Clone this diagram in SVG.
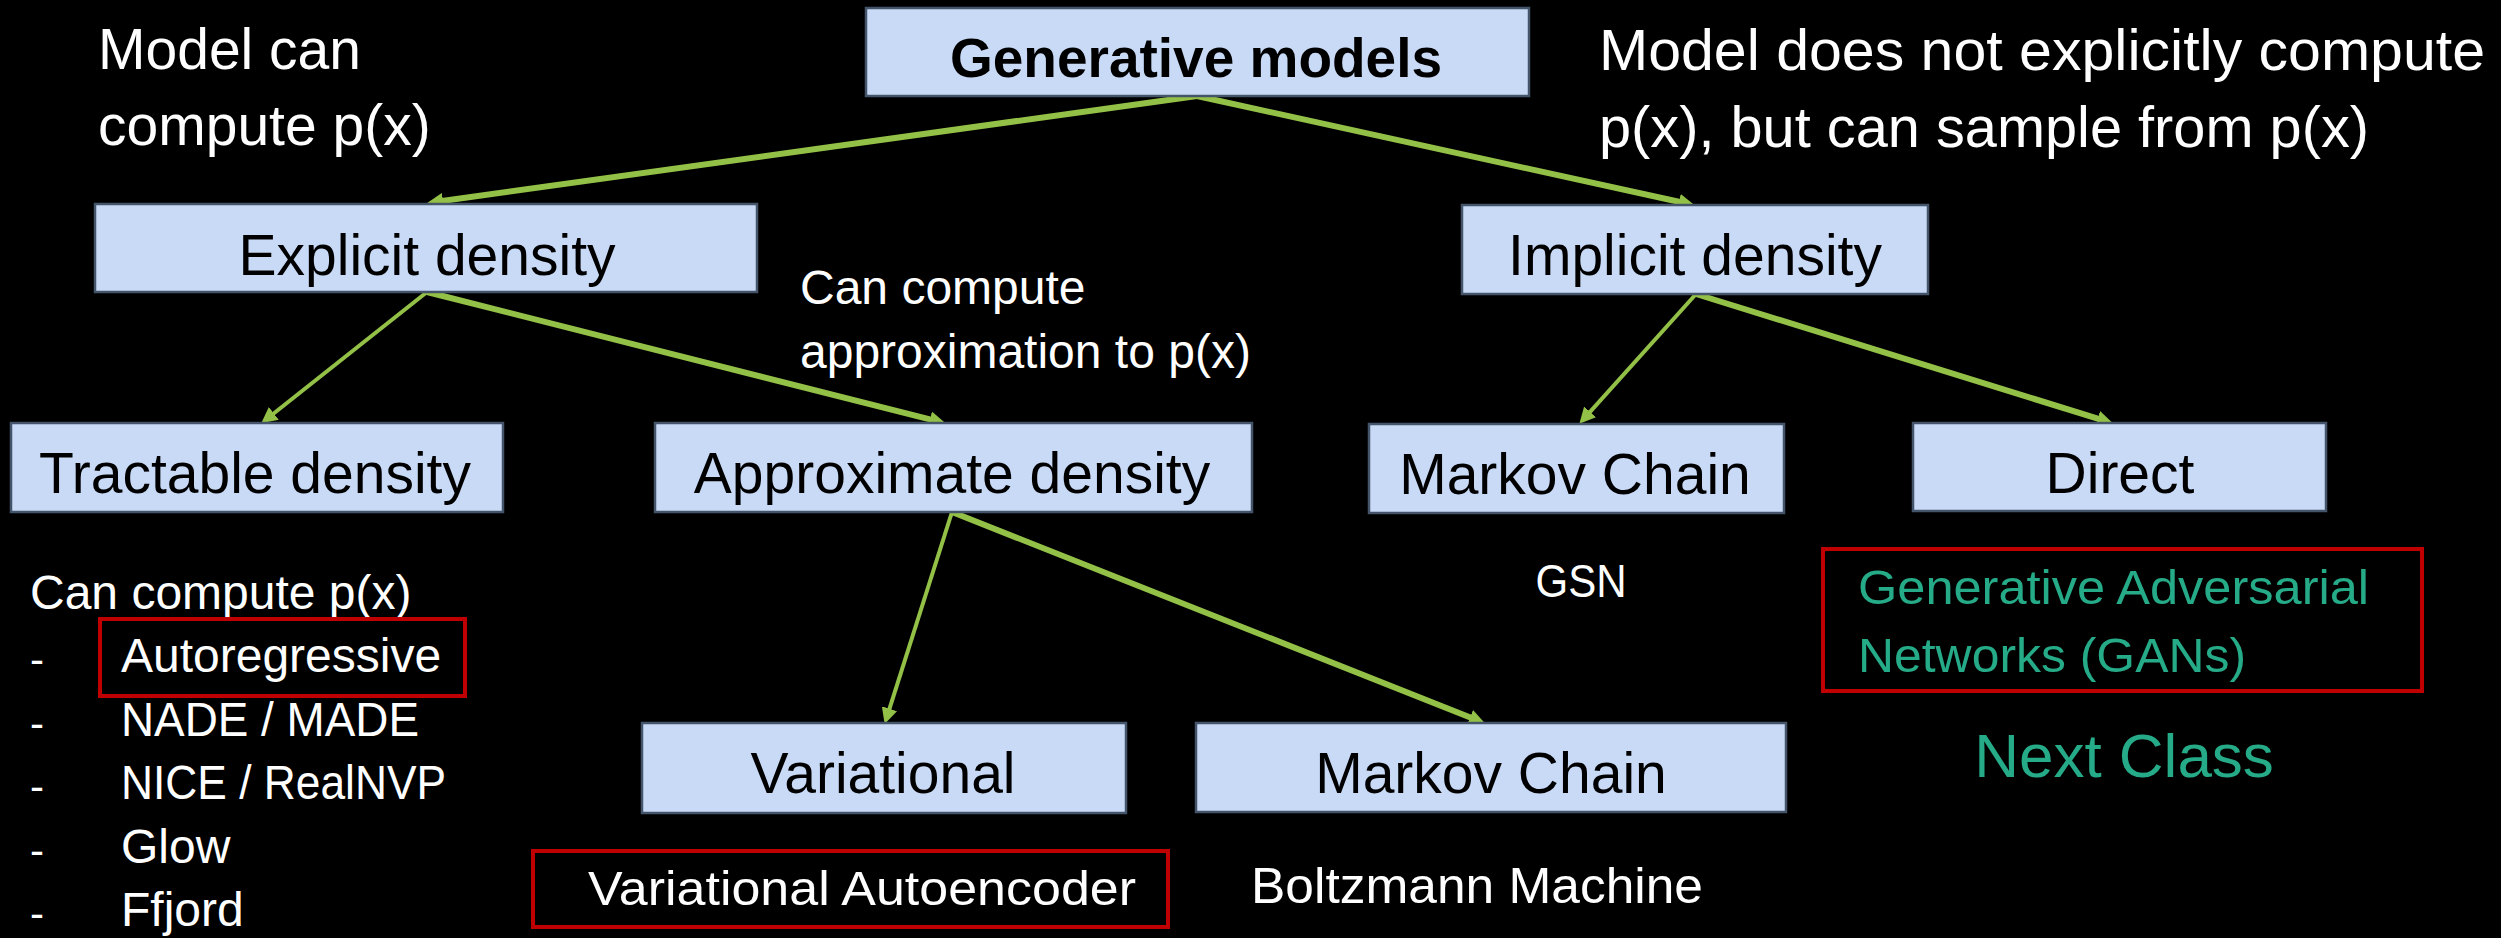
<svg xmlns="http://www.w3.org/2000/svg" width="2501" height="938" viewBox="0 0 2501 938">
<style>
text{font-family:"Liberation Sans",Arial,sans-serif}
.box{fill:#C9DAF7;stroke:#44546A;stroke-width:2.5}
.lbl{font-size:57px;fill:#000;text-anchor:middle}
.wt{fill:#fff}
.tl{fill:#26AB88}
.red{fill:none;stroke:#C00000;stroke-width:4}
.c{stroke:#93C147;fill:none;marker-end:url(#ah)}
.thick{stroke-width:6}
.thin{stroke-width:4}
</style>
<defs>
<marker id="ah" markerUnits="userSpaceOnUse" markerWidth="16" markerHeight="16" viewBox="0 0 16 16" refX="1" refY="8" orient="auto">
<path d="M0,0 L16,8 L0,16 z" fill="#93C147"/>
</marker>
</defs>
<rect width="2501" height="938" fill="#000"/>

<g id="connectors">
<line class="c thick" x1="1197" y1="96" x2="442" y2="201"/>
<line class="c thick" x1="1197" y1="96" x2="1680" y2="202"/>
<line class="c thin" x1="427" y1="292" x2="273" y2="414"/>
<line class="c thick" x1="427" y1="292" x2="931" y2="419.6"/>
<line class="c thin" x1="1696" y1="294" x2="1589.4" y2="412.6"/>
<line class="c thick" x1="1696" y1="294" x2="2098.6" y2="418.9"/>
<line class="c thin" x1="952" y1="512" x2="889.2" y2="709.7"/>
<line class="c thick" x1="952" y1="512" x2="1471" y2="717.8"/>
</g>

<g id="generative">
<rect class="box" x="866" y="8" width="663" height="88"/>
<text class="lbl" x="1196" y="77" font-weight="bold" style="font-size:55px">Generative models</text>
</g>
<g id="explicit">
<rect class="box" x="95" y="204" width="662" height="88"/>
<text class="lbl" x="427" y="275">Explicit density</text>
</g>
<g id="implicit">
<rect class="box" x="1462" y="205" width="466" height="89"/>
<text class="lbl" x="1695" y="275">Implicit density</text>
</g>
<g id="tractable">
<rect class="box" x="11" y="423" width="492" height="89"/>
<text class="lbl" x="255" y="493">Tractable density</text>
</g>
<g id="approximate">
<rect class="box" x="655" y="423" width="597" height="89"/>
<text class="lbl" x="952" y="493">Approximate density</text>
</g>
<g id="markov1">
<rect class="box" x="1369" y="424" width="415" height="89"/>
<text class="lbl" x="1575" y="494">Markov Chain</text>
</g>
<g id="direct">
<rect class="box" x="1913" y="423" width="413" height="88"/>
<text class="lbl" x="2120" y="493">Direct</text>
</g>
<g id="variational">
<rect class="box" x="642" y="723" width="484" height="90"/>
<text class="lbl" x="883" y="793">Variational</text>
</g>
<g id="markov2">
<rect class="box" x="1196" y="723" width="590" height="89"/>
<text class="lbl" x="1491" y="793">Markov Chain</text>
</g>

<g id="notes">
<text class="wt" x="98" y="69" font-size="57">Model can</text>
<text class="wt" x="98" y="145" font-size="57">compute p(x)</text>
<text class="wt" x="1599" y="70" font-size="57" textLength="886" lengthAdjust="spacingAndGlyphs">Model does not explicitly compute</text>
<text class="wt" x="1599" y="147" font-size="57" textLength="770" lengthAdjust="spacingAndGlyphs">p(x), but can sample from p(x)</text>
<text class="wt" x="800" y="304" font-size="48">Can compute</text>
<text class="wt" x="800" y="368" font-size="48">approximation to p(x)</text>
<text class="wt" x="1581" y="597" font-size="46" text-anchor="middle" textLength="91" lengthAdjust="spacingAndGlyphs">GSN</text>
<text class="wt" x="1251" y="903" font-size="50" textLength="452" lengthAdjust="spacingAndGlyphs">Boltzmann Machine</text>
</g>

<g id="list">
<text class="wt" x="30" y="609" font-size="48">Can compute p(x)</text>
<text class="wt" x="30" y="674" font-size="42">-</text>
<text class="wt" x="30" y="738" font-size="42">-</text>
<text class="wt" x="30" y="801" font-size="42">-</text>
<text class="wt" x="30" y="865" font-size="42">-</text>
<text class="wt" x="30" y="928" font-size="42">-</text>
<text class="wt" x="121" y="672" font-size="48">Autoregressive</text>
<text class="wt" x="121" y="736" font-size="48" textLength="298" lengthAdjust="spacingAndGlyphs">NADE / MADE</text>
<text class="wt" x="121" y="799" font-size="48" textLength="325" lengthAdjust="spacingAndGlyphs">NICE / RealNVP</text>
<text class="wt" x="121" y="863" font-size="48">Glow</text>
<text class="wt" x="121" y="926" font-size="48">Ffjord</text>
<rect class="red" x="100" y="619" width="365" height="77"/>
</g>

<g id="vae">
<rect class="red" x="533" y="851" width="635" height="76"/>
<text class="wt" x="588" y="905" font-size="49" textLength="548" lengthAdjust="spacingAndGlyphs">Variational Autoencoder</text>
</g>

<g id="gans">
<rect class="red" x="1823" y="549" width="599" height="142"/>
<text class="tl" x="1858" y="604" font-size="49" textLength="511" lengthAdjust="spacingAndGlyphs">Generative Adversarial</text>
<text class="tl" x="1858" y="672" font-size="49" textLength="388" lengthAdjust="spacingAndGlyphs">Networks (GANs)</text>
<text class="tl" x="2124" y="777" font-size="62" text-anchor="middle">Next Class</text>
</g>
</svg>
